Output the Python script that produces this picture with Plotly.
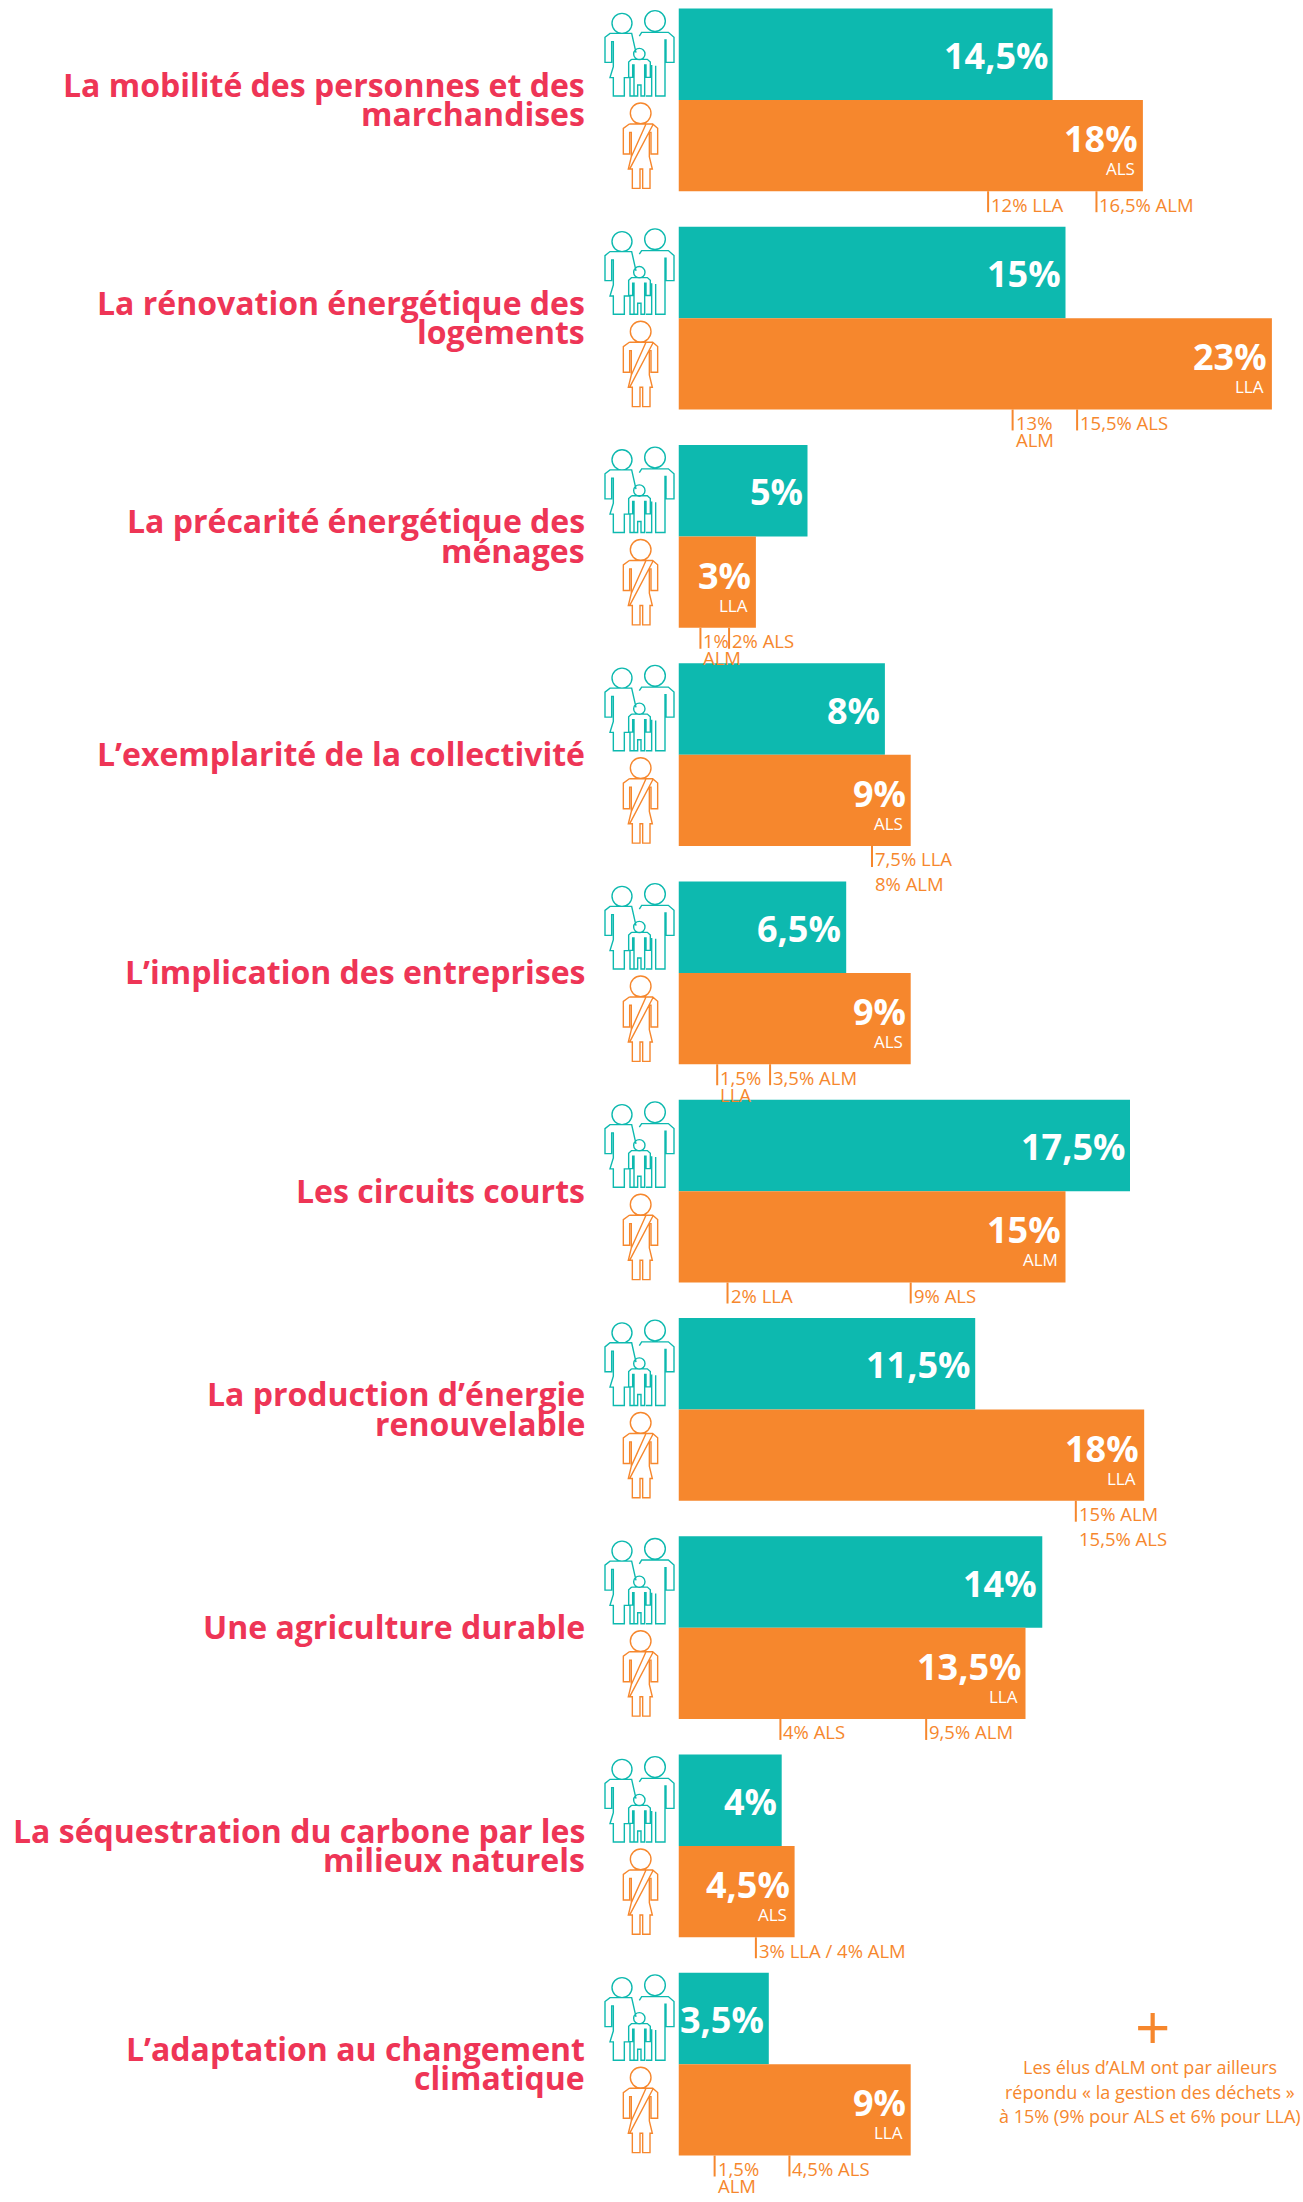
import plotly.graph_objects as go

WIDTH, HEIGHT = 1303, 2202
TEAL, ORANGE, RED = "#0DB9AF", "#F6872D", "#EE3556"
FONT = "Open Sans"

categories = [
    "La mobilité des personnes et des\nmarchandises",
    "La rénovation énergétique des\nlogements",
    "La précarité énergétique des\nménages",
    "L’exemplarité de la collectivité",
    "L’implication des entreprises",
    "Les circuits courts",
    "La production d’énergie\nrenouvelable",
    "Une agriculture durable",
    "La séquestration du carbone par les\nmilieux naturels",
    "L’adaptation au changement\nclimatique",
]
citizens = [14.5, 15, 5, 8, 6.5, 17.5, 11.5, 14.1, 4, 3.5]
citizen_labels = ["14,5%", "15%", "5%", "8%", "6,5%", "17,5%", "11,5%", "14%", "4%", "3,5%"]
elected = [18, 23, 3, 9, 9, 15, 18.05, 13.45, 4.5, 9]
elected_labels = ["18%", "23%", "3%", "9%", "9%", "15%", "18%", "13,5%", "4,5%", "9%"]
elected_groups = ["ALS", "LLA", "LLA", "ALS", "ALS", "ALM", "LLA", "LLA", "ALS", "LLA"]
tick_values = [[12, 16.2], [12.95, 15.45], [0.85, 1.96], [7.5], [1.5, 3.55], [1.9, 9], [15.4], [3.95, 9.6], [3], [1.4, 4.3]]
tick_labels = [
    ["12% LLA", "16,5% ALM"],
    ["13%\nALM", "15,5% ALS"],
    ["1%\nALM", "2% ALS"],
    ["7,5% LLA\n8% ALM"],
    ["1,5%\nLLA", "3,5% ALM"],
    ["2% LLA", "9% ALS"],
    ["15% ALM\n15,5% ALS"],
    ["4% ALS", "9,5% ALM"],
    ["3% LLA / 4% ALM"],
    ["1,5%\nALM", "4,5% ALS"],
]
note_lines = [
    "Les élus d’ALM ont par ailleurs",
    "répondu « la gestion des déchets »",
    "à 15% (9% pour ALS et 6% pour LLA)",
]

# pixel geometry of the layout
X0 = 678.5
PX_PER_UNIT = 25.8
ROW0_CY = 99.9
ROW_STEP = 218.25
BAR_H = 91.3
rows = list(range(len(categories)))


def px(x):
    return x / WIDTH


def py(y):
    return 1 - y / HEIGHT


fig = go.Figure()
fig.add_bar(y=rows, x=citizens, orientation="h", marker=dict(color=TEAL, line_width=0),
            offsetgroup="a", name="Citoyens", hoverinfo="x+y")
fig.add_bar(y=rows, x=elected, orientation="h", marker=dict(color=ORANGE, line_width=0),
            offsetgroup="b", name="Élus", hoverinfo="x+y")

annotations = []
shapes = []


def text(x, y, s, size, color, anchor="left", bold=False, xref="paper", yref="paper", xshift=0, yshift=0):
    annotations.append(dict(
        x=x, y=y, xref=xref, yref=yref, text=f"<b>{s}</b>" if bold else s, showarrow=False,
        xanchor=anchor, yanchor="middle", xshift=xshift, yshift=yshift, borderpad=0, borderwidth=0,
        font=dict(family=FONT, size=size, color=color),
    ))


def circle(cx, cy, r):
    k = 0.5523 * r
    return [("M", (cx + r, cy)),
            ("C", (cx + r, cy + k), (cx + k, cy + r), (cx, cy + r)),
            ("C", (cx - k, cy + r), (cx - r, cy + k), (cx - r, cy)),
            ("C", (cx - r, cy - k), (cx - k, cy - r), (cx, cy - r)),
            ("C", (cx + k, cy - r), (cx + r, cy - k), (cx + r, cy)),
            ("Z",)]


def poly(pts, close=False):
    cmds = [("M", pts[0])] + [("L", p) for p in pts[1:]]
    if close:
        cmds.append(("Z",))
    return cmds


# icon outlines, in 3x pixels relative to the top-left of the row's icon box
FAMILY = [
    circle(96, 70, 30), circle(195, 63, 31), circle(148, 162, 17),
    poly([(125, 178), (172, 178), (181, 186), (181, 232), (168, 232), (168, 195), (164, 195), (164, 288),
          (153, 288), (153, 255), (143, 255), (143, 288), (132, 288), (132, 195), (128, 195), (128, 232),
          (116, 232), (116, 186), (125, 178)]),
    poly([(138, 158), (125, 100), (60, 100), (45, 112), (45, 187), (65, 187), (65, 125), (70, 125), (70, 200),
          (60, 233), (70, 233), (70, 288), (103, 288), (103, 233), (120, 233), (120, 288), (130, 288)]),
    poly([(148, 108), (155, 97), (235, 97), (252, 112), (252, 187), (228, 187), (228, 120), (225, 120),
          (225, 288), (197, 288), (197, 197)]),
    poly([(168, 288), (185, 288), (185, 195)]),
]
PERSON = [
    circle(152, 340, 31),
    poly([(118, 372), (188, 372), (203, 385), (203, 462), (183, 462), (183, 397), (178, 397), (178, 470),
          (187, 507), (180, 507), (180, 565), (158, 565), (158, 507), (150, 507), (150, 565), (127, 565),
          (127, 507), (115, 507), (124, 470), (124, 397), (119, 397), (119, 462), (100, 462), (100, 385),
          (118, 372)]),
    poly([(168, 372), (124, 470)]),
    poly([(190, 372), (120, 505)]),
]


def icon_path(parts, dy):
    out = []
    for part in parts:
        for cmd in part:
            c = cmd[0]
            coords = " ".join(f"{px(590 + p[0] / 3):.5f},{py(p[1] / 3 + dy):.5f}" for p in cmd[1:])
            out.append(c + coords)
    return " ".join(out)


for i in rows:
    cy = ROW0_CY + i * ROW_STEP
    dy = i * ROW_STEP

    # row title, one annotation per line for the tight leading
    lines = categories[i].split("\n")
    for j, line in enumerate(lines):
        ly = cy + (j - (len(lines) - 1) / 2) * 29.5 - 1
        text(px(585), py(ly), line, 32, RED, anchor="right", bold=True)

    # icons
    shapes.append(dict(type="path", xref="paper", yref="paper", path=icon_path(FAMILY, dy),
                       line=dict(color=TEAL, width=1.4), fillcolor="rgba(0,0,0,0)"))
    shapes.append(dict(type="path", xref="paper", yref="paper", path=icon_path(PERSON, dy),
                       line=dict(color=ORANGE, width=1.4), fillcolor="rgba(0,0,0,0)"))

    # value labels inside the bars
    text(citizens[i], py(cy - BAR_H / 2 + 1), citizen_labels[i], 36, "white", anchor="right", bold=True,
         xref="x", xshift=-5)
    text(elected[i], py(cy + BAR_H / 2 - 7), elected_labels[i], 36, "white", anchor="right", bold=True,
         xref="x", xshift=-5)
    text(elected[i], py(cy + BAR_H / 2 + 23), elected_groups[i], 17, "white", anchor="right",
         xref="x", xshift=-8)

    # ticks under the orange bar
    bottom = cy + BAR_H
    for v, lab in zip(tick_values[i], tick_labels[i]):
        shapes.append(dict(type="line", xref="x", yref="paper", x0=v, x1=v,
                           y0=py(bottom), y1=py(bottom + 21),
                           line=dict(color=ORANGE, width=2)))
        for j, part in enumerate(lab.split("\n")):
            text(v, py(bottom + 13 + j * (25 if "LLA\n" in lab or "ALM\n" in lab and "%" in lab.split("\n")[1] else 17)),
                 part, 18.5, ORANGE, xref="x", xshift=3)

# the note at bottom right
text(px(1152), py(2026), "+", 62, ORANGE, anchor="center")
for j, line in enumerate(note_lines):
    text(px(1150), py(2067 + j * 24.7), line, 18, ORANGE, anchor="center")

fig.update_layout(
    width=WIDTH, height=HEIGHT, autosize=False, showlegend=False,
    margin=dict(l=0, r=0, t=0, b=0, pad=0),
    paper_bgcolor="white", plot_bgcolor="white",
    barmode="group", bargap=1 - 2 * BAR_H / ROW_STEP, bargroupgap=0,
    xaxis=dict(domain=[X0 / WIDTH, 1], range=[0, (WIDTH - X0) / PX_PER_UNIT], visible=False, fixedrange=True),
    yaxis=dict(range=[(HEIGHT - ROW0_CY) / ROW_STEP, -ROW0_CY / ROW_STEP], visible=False, fixedrange=True),
    annotations=annotations, shapes=shapes,
)
fig.write_html("out.html", config=dict(displayModeBar=False),
               post_script="document.body.style.margin='0';document.body.style.overflow='hidden';")
